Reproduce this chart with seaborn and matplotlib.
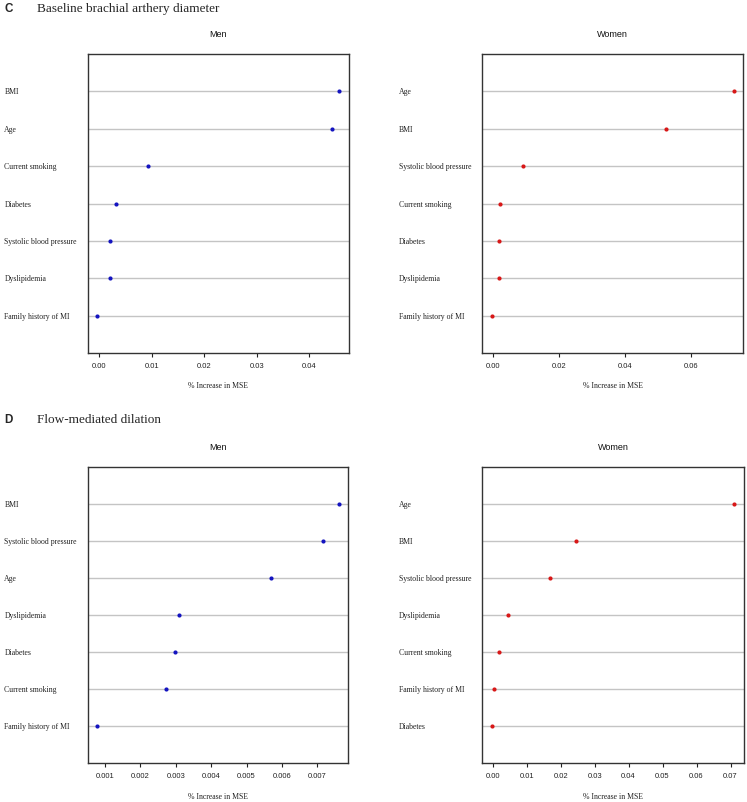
import numpy as np
import pandas as pd
import seaborn as sb
import matplotlib.pyplot as plt
from matplotlib.ticker import FormatStrFormatter

# data
c_men_labels = ["BMI", "Age", "Current smoking", "Diabetes", "Systolic blood pressure",
                "Dyslipidemia", "Family history of MI"]
c_men_vals = [0.0457, 0.0444, 0.0093, 0.0031, 0.0021, 0.0021, -0.0004]

c_women_labels = ["Age", "BMI", "Systolic blood pressure", "Current smoking", "Diabetes",
                  "Dyslipidemia", "Family history of MI"]
c_women_vals = [0.0728, 0.0522, 0.0091, 0.0020, 0.0019, 0.0018, -0.0003]

d_men_labels = ["BMI", "Systolic blood pressure", "Age", "Dyslipidemia", "Diabetes",
                "Current smoking", "Family history of MI"]
d_men_vals = [0.0076, 0.00716, 0.00569, 0.00308, 0.00297, 0.00274, 0.00079]

d_women_labels = ["Age", "BMI", "Systolic blood pressure", "Dyslipidemia", "Current smoking",
                  "Family history of MI", "Diabetes"]
d_women_vals = [0.0711, 0.0244, 0.0170, 0.0044, 0.0018, 0.0004, -0.0002]

c_men_ticks = [0.00, 0.01, 0.02, 0.03, 0.04]
c_women_ticks = [0.00, 0.02, 0.04, 0.06]
d_men_ticks = [0.001, 0.002, 0.003, 0.004, 0.005, 0.006, 0.007]
d_women_ticks = [0.00, 0.01, 0.02, 0.03, 0.04, 0.05, 0.06, 0.07]

sb.set_style("white")
plt.rcParams['font.family'] = ['Liberation Serif', 'DejaVu Serif']

serif = 'Liberation Serif'
sans = 'Liberation Sans'
blue = '#1414c0'
red = '#d81818'

fig = plt.figure(figsize=(7.47, 8.02), dpi=100)

# axes positions (figure fraction)
boxes = {
    'c_men': [0.1174, 0.5597, 0.3498, 0.3730],
    'c_women': [0.6456, 0.5597, 0.3496, 0.3730],
    'd_men': [0.1174, 0.0483, 0.3489, 0.3700],
    'd_women': [0.6456, 0.0483, 0.3503, 0.3700],
}


def dot_panel(key, labels, vals, ticks, fmt, color, title):
    ax = fig.add_axes(boxes[key])
    df = pd.DataFrame({"var": labels, "imp": vals})
    sb.stripplot(data=df, x="imp", y="var", order=labels, jitter=False,
                 color=color, size=3.0, linewidth=0, ax=ax, zorder=3)
    # seaborn switches the categorical grid off, so put it back afterwards
    ax.yaxis.grid(True, color='#c4c4c4', lw=1.0)
    ax.xaxis.grid(False)
    ax.set_axisbelow(True)
    lo, hi = min(vals), max(vals)
    span = hi - lo
    ax.set_xlim(lo - 0.04 * span, hi + 0.04 * span)
    ax.set_ylim(len(labels), -1)
    ax.set_xticks(ticks)
    ax.xaxis.set_major_formatter(FormatStrFormatter(fmt))
    ax.tick_params(axis='x', bottom=True, length=2.6, width=0.8, pad=4.5,
                   labelsize=5.5, colors='#222222')
    for t in ax.get_xticklabels():
        t.set_fontfamily(sans)
    ax.tick_params(axis='y', left=False, length=0, pad=60, labelsize=5.6)
    for t in ax.get_yticklabels():
        t.set_ha('left')
        t.set_fontfamily(serif)
        t.set_color('#222222')
    ax.set_xlabel("")
    ax.set_ylabel("")
    for s in ax.spines.values():
        s.set_visible(True)
        s.set_color('#333333')
        s.set_linewidth(1.0)
    ax.annotate("% Increase in MSE", xy=(0.5, 0), xycoords='axes fraction',
                xytext=(0, -24), textcoords='offset points', ha='center', va='center',
                fontsize=5.6, family=serif, color='#222222')
    ax.annotate(title, xy=(0.5, 1), xycoords='axes fraction',
                xytext=(0, 14), textcoords='offset points', ha='center', va='center',
                fontsize=6.5, family=sans, color='#111111')
    return ax


dot_panel('c_men', c_men_labels, c_men_vals, c_men_ticks, '%.2f', blue, "Men")
dot_panel('c_women', c_women_labels, c_women_vals, c_women_ticks, '%.2f', red, "Women")
dot_panel('d_men', d_men_labels, d_men_vals, d_men_ticks, '%.3f', blue, "Men")
dot_panel('d_women', d_women_labels, d_women_vals, d_women_ticks, '%.2f', red, "Women")

# panel headings
fig.text(0.0063, 0.9888, "C", fontsize=8.4, fontweight='bold', family=sans, va='center')
fig.text(0.0491, 0.9885, "Baseline brachial arthery diameter", fontsize=9.5, family=serif, va='center')
fig.text(0.0063, 0.4769, "D", fontsize=8.4, fontweight='bold', family=sans, va='center')
fig.text(0.0500, 0.4769, "Flow-mediated dilation", fontsize=9.5, family=serif, va='center')

fig.savefig("out.png", dpi=100)
